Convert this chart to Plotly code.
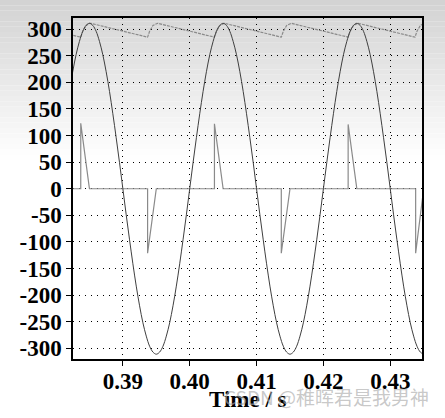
import numpy as np
import plotly.graph_objects as go

# ---------------- data ----------------
t_start = 0.382
t_step = 0.0005
# supply voltage (V), sampled every 0.5 ms from t = 0.382 s
supply_v = [183, 220, 252, 277, 296, 307, 311, 307, 296, 277,
            252, 220, 183, 141, 96, 49, 0, -49, -96, -141,
            -183, -220, -252, -277, -296, -307, -311, -307, -296, -277,
            -252, -220, -183, -141, -96, -49, 0, 49, 96, 141,
            183, 220, 252, 277, 296, 307, 311, 307, 296, 277,
            252, 220, 183, 141, 96, 49, 0, -49, -96, -141,
            -183, -220, -252, -277, -296, -307, -311, -307, -296, -277,
            -252, -220, -183, -141, -96, -49, 0, 49, 96, 141,
            183, 220, 252, 277, 296, 307, 311, 307, 296, 277,
            252, 220, 183, 141, 96, 49, 0, -49, -96, -141,
            -183, -220, -252, -277, -296, -307, -311]
supply_t = [round(t_start + i * t_step, 4) for i in range(len(supply_v))]

# capacitor (output) voltage
cap_t = [0.3820, 0.3837, 0.3840, 0.3845, 0.3850, 0.3852,
         0.3937, 0.3940, 0.3945, 0.3950, 0.3952,
         0.4037, 0.4040, 0.4045, 0.4050, 0.4052,
         0.4137, 0.4140, 0.4145, 0.4150, 0.4152,
         0.4237, 0.4240, 0.4245, 0.4250, 0.4252,
         0.4337, 0.4340, 0.4345, 0.4350]
cap_v = [290, 285, 296, 307, 311, 311,
         285, 296, 307, 311, 311,
         285, 296, 307, 311, 311,
         285, 296, 307, 311, 311,
         285, 296, 307, 311, 311,
         285, 296, 307, 311]

# input current pulses
cur_t = [0.3820, 0.3837, 0.3837, 0.3850, 0.3937, 0.3937, 0.3950,
         0.4037, 0.4037, 0.4050, 0.4137, 0.4137, 0.4150,
         0.4237, 0.4237, 0.4250, 0.4338, 0.4338, 0.4350]
cur_i = [0, 0, 123, 0, 0, -121, 0,
         0, 122, 0, 0, -121, 0,
         0, 121, 0, 0, -121, 0]

y_ticks = [300, 250, 200, 150, 100, 50, 0, -50, -100, -150, -200, -250, -300]
y_labels = ["300", "250", "200", "150", "100", "50", "0", "-50", "-100",
            "-150", "-200", "-250", "-300"]
x_ticks = [0.39, 0.40, 0.41, 0.42, 0.43]
x_labels = ["0.39", "0.40", "0.41", "0.42", "0.43"]

# ---------------- figure ----------------
fig = go.Figure()

fig.add_trace(go.Scatter(x=cap_t, y=cap_v, mode="lines",
                         line=dict(color="#8a8a8a", width=1.2, dash="3px,1px"),
                         showlegend=False))
fig.add_trace(go.Scatter(x=cur_t, y=cur_i, mode="lines",
                         line=dict(color="#8a8a8a", width=1.2),
                         showlegend=False))
fig.add_trace(go.Scatter(x=supply_t, y=supply_v, mode="lines",
                         line=dict(color="#3f3f3f", width=1, shape="spline"),
                         showlegend=False))

W, H = 445, 418
L, R, T, B = 73, 23, 18, 59
pw = W - L - R
ph = H - T - B

# grey gradient band at the top of the picture
shapes = []
n = 30
g_top, g_bot = 210, 255
band_px = 160
for k in range(n):
    y0px = band_px * k / n
    y1px = band_px * (k + 1) / n
    g = int(round(g_top + (g_bot - g_top) * (k + 0.5) / n))
    shapes.append(dict(type="rect", xref="paper", yref="paper", layer="below",
                       x0=-L / pw, x1=1 + R / pw,
                       y0=(H - B - y1px) / ph, y1=(H - B - y0px) / ph,
                       line=dict(width=0), fillcolor=f"rgb({g},{g},{g})"))

font_b = dict(family="Liberation Serif, Times New Roman, serif", size=23, color="black")

fig.update_layout(
    width=W, height=H,
    margin=dict(l=L, r=R, t=T, b=B),
    paper_bgcolor="white",
    plot_bgcolor="rgba(0,0,0,0)",
    shapes=shapes,
    xaxis=dict(range=[0.38254, 0.43475], tickvals=x_ticks,
               ticktext=[f"<b>{s}</b>" for s in x_labels],
               ticks="outside", ticklen=5, tickwidth=1, tickcolor="black",
               tickfont=font_b, ticklabelstandoff=-4,
               showline=True, linecolor="black", linewidth=1.5,
               mirror=True, showgrid=True, gridcolor="black", gridwidth=1,
               griddash="1px,5px", zeroline=False, automargin=False),
    yaxis=dict(range=[-320, 321], tickvals=y_ticks,
               ticktext=[f"<b>{s}</b>" for s in y_labels],
               ticks="outside", ticklen=5, tickwidth=1, tickcolor="black",
               tickfont=font_b, showline=True, linecolor="black", linewidth=1.5,
               mirror=True, showgrid=True, gridcolor="black", gridwidth=1,
               griddash="1px,5px", zeroline=False, automargin=False),
    annotations=[
        dict(text="<b>Time / s</b>", xref="paper", yref="paper",
             x=0.5, y=(H - B - 400) / ph, xanchor="center", yanchor="middle",
             showarrow=False, font=font_b),
        dict(text="CSDN @稚晖君是我男神", xref="paper", yref="paper",
             x=(431 - L) / pw, y=(H - B - 397) / ph,
             xanchor="right", yanchor="middle", showarrow=False,
             font=dict(family="Noto Sans CJK SC", size=19,
                       color="rgba(170,170,170,0.65)")),
    ],
)

fig.write_html("out.html",
               config={"displayModeBar": False},
               post_script="document.body.style.margin='0';"
                           "document.body.style.padding='0';")
